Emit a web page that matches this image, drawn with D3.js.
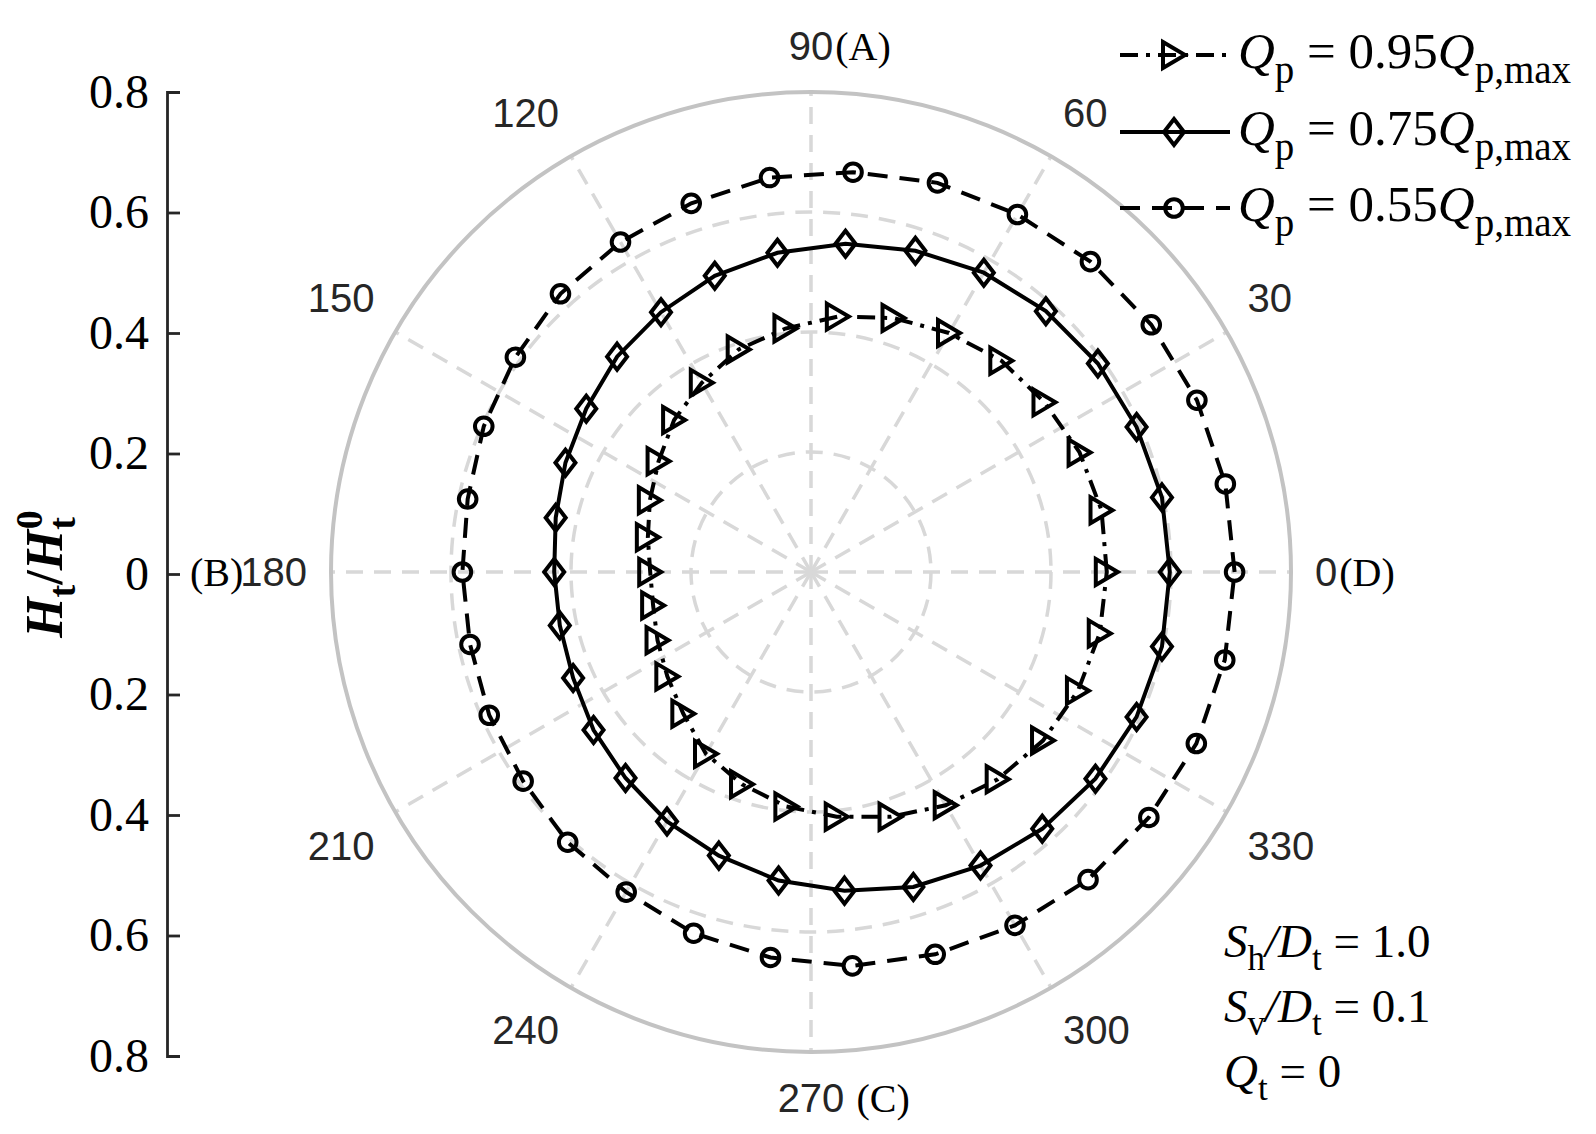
<!DOCTYPE html>
<html>
<head>
<meta charset="utf-8">
<script src="https://cdn.jsdelivr.net/npm/d3@7"></script>
<style>
  body { margin: 0; background: #fff; }
  svg { display: block; }
</style>
</head>
<body>
<svg id="grafico" width="1596" height="1134"></svg>
<script>
var angulos = [0, 12, 24, 36, 48, 60, 72, 84, 96, 108, 120, 132, 144, 156, 168,
  180, 192, 204, 216, 228, 240, 252, 264, 276, 288, 300, 312, 324, 336, 348];

// Qp = 0.95 Qp,max
var serie095 = [0.493, 0.495, 0.490, 0.481, 0.474, 0.460, 0.445, 0.428, 0.408, 0.390,
  0.364, 0.341, 0.314, 0.294, 0.278, 0.268, 0.269, 0.280, 0.296, 0.318,
  0.350, 0.372, 0.393, 0.410, 0.429, 0.449, 0.465, 0.478, 0.487, 0.492];
// Qp = 0.75 Qp,max
var serie075 = [0.598, 0.598, 0.594, 0.591, 0.585, 0.576, 0.563, 0.550, 0.535, 0.519,
  0.500, 0.483, 0.463, 0.448, 0.435, 0.428, 0.428, 0.434, 0.448, 0.462,
  0.480, 0.497, 0.517, 0.534, 0.552, 0.565, 0.576, 0.586, 0.594, 0.598];
// Qp = 0.55 Qp,max
var serie055 = [0.706, 0.706, 0.704, 0.701, 0.696, 0.688, 0.682, 0.670, 0.661, 0.646,
  0.635, 0.624, 0.609, 0.597, 0.585, 0.581, 0.581, 0.587, 0.593, 0.606,
  0.616, 0.633, 0.646, 0.660, 0.670, 0.680, 0.690, 0.696, 0.703, 0.705];

var nombresSeries = ["0.95", "0.75", "0.55"];
var anillos = [0.2, 0.4, 0.6];
var radioMax = 0.8;
var angulosEje = [0, 30, 60, 90, 120, 150, 180, 210, 240, 270, 300, 330];
var etiquetasEje = ["0", "30", "60", "90", "120", "150", "180", "210", "240", "270", "300", "330"];
var sufijos = { 0: "(D)", 90: "(A)", 270: " (C)" };
var prefijos = { 180: "(B)" };
var ticksEje = [-0.8, -0.6, -0.4, -0.2, 0, 0.2, 0.4, 0.6, 0.8];
var notas = [["S", "h", "D", "t", " = 1.0"], ["S", "v", "D", "t", " = 0.1"]];

var cx = 811, cy = 572;
var grosor = 4;
var svg = d3.select("#grafico");
var serif = "'Liberation Serif', 'Times New Roman', serif";
var sans = "'Liberation Sans', Arial, sans-serif";

var r = d3.scaleLinear().domain([0, radioMax]).range([0, 480]);
function rad(a) { return a * Math.PI / 180; }

var polar = svg.append("g").attr("transform", "translate(" + cx + "," + cy + ")");

// rings and spokes
polar.selectAll(".anillo")
  .data(anillos)
  .enter().append("circle")
  .attr("class", "anillo")
  .attr("r", d => r(d))
  .attr("fill", "none")
  .attr("stroke", "#d8d8d8")
  .attr("stroke-width", 3.5)
  .attr("stroke-dasharray", "17,11");

polar.selectAll(".radio")
  .data(angulosEje)
  .enter().append("line")
  .attr("class", "radio")
  .attr("x1", 0).attr("y1", 0)
  .attr("x2", d => r(radioMax) * Math.cos(rad(d)))
  .attr("y2", d => -r(radioMax) * Math.sin(rad(d)))
  .attr("stroke", "#d8d8d8")
  .attr("stroke-width", 3.5)
  .attr("stroke-dasharray", "17,11");

polar.append("circle")
  .attr("r", r(radioMax))
  .attr("fill", "none")
  .attr("stroke", "#c3c3c3")
  .attr("stroke-width", 4);

// angle labels
var rEtiq = r(radioMax) * 1.05;
angulosEje.forEach(function (a, i) {
  var c = Math.cos(rad(a)), s = Math.sin(rad(a));
  var px = cx + rEtiq * c, py = cy - rEtiq * s;
  var fs = 40;
  var anchor = c > 0.1 ? "start" : (c < -0.1 ? "end" : "middle");
  var by = s > 0.1 ? py - 0.21 * fs : (s < -0.1 ? py + 0.9 * fs : py + 0.36 * fs);
  var t = svg.append("text")
    .attr("x", px).attr("y", by)
    .attr("text-anchor", anchor)
    .attr("font-family", sans)
    .attr("font-size", fs)
    .attr("fill", "#262626")
    .text(etiquetasEje[i]);
  var bb = t.node().getBBox();
  if (sufijos[a]) {
    svg.append("text")
      .attr("x", bb.x + bb.width + 2).attr("y", by)
      .attr("font-family", serif)
      .attr("font-size", 40)
      .attr("fill", "#000")
      .attr("xml:space", "preserve")
      .text(sufijos[a]);
  }
  if (prefijos[a]) {
    svg.append("text")
      .attr("x", bb.x + 3).attr("y", by)
      .attr("text-anchor", "end")
      .attr("font-family", serif)
      .attr("font-size", 40)
      .attr("fill", "#000")
      .text(prefijos[a]);
  }
});

// data series
var series = [
  { nombre: nombresSeries[0], valores: serie095, dash: "18,8,4,8", marca: "tri" },
  { nombre: nombresSeries[1], valores: serie075, dash: null, marca: "dia" },
  { nombre: nombresSeries[2], valores: serie055, dash: "20,12", marca: "cir" }
];

var linea = d3.lineRadial()
  .angle(d => Math.PI / 2 - rad(d[0]))
  .radius(d => r(d[1]))
  .curve(d3.curveLinearClosed);

var formas = {
  tri: "M-11,-13L11,0L-11,13Z",
  dia: "M0,-13L10,0L0,13L-10,0Z",
  cir: d3.symbol().type(d3.symbolCircle).size(Math.PI * 8.8 * 8.8)()
};

series.forEach(function (s) {
  var puntos = angulos.map((a, i) => [a, s.valores[i]]);
  polar.append("path")
    .attr("d", linea(puntos))
    .attr("fill", "none")
    .attr("stroke", "#000")
    .attr("stroke-width", grosor)
    .attr("stroke-dasharray", s.dash);
  polar.selectAll(".m-" + s.marca)
    .data(puntos)
    .enter().append("path")
    .attr("class", "m-" + s.marca)
    .attr("transform", d => "translate(" + r(d[1]) * Math.cos(rad(d[0])) + "," + (-r(d[1]) * Math.sin(rad(d[0]))) + ")")
    .attr("d", formas[s.marca])
    .attr("fill", "none")
    .attr("stroke", "#000")
    .attr("stroke-width", grosor);
});

// left axis
var yEje = d3.scaleLinear().domain([-0.8, 0.8]).range([1056, 92]);
var eje = d3.axisLeft(yEje)
  .tickValues(ticksEje)
  .tickSize(-13)
  .tickPadding(18)
  .tickFormat(d => Math.abs(d) < 1e-9 ? "0" : d3.format(".1f")(Math.abs(d)));
var gEje = svg.append("g")
  .attr("transform", "translate(167,0)")
  .style("color", "#262626")
  .call(eje);
gEje.selectAll("path, line").attr("stroke-width", 2.8);
gEje.selectAll("text")
  .attr("font-family", serif)
  .attr("font-size", 48)
  .attr("fill", "#000");

// y label
var yLab = svg.append("text")
  .attr("transform", "translate(62,574) rotate(-90)")
  .attr("text-anchor", "middle")
  .attr("font-family", serif)
  .attr("font-weight", "bold")
  .attr("font-size", 52)
  .attr("fill", "#000");
yLab.append("tspan").attr("font-style", "italic").text("H");
yLab.append("tspan").attr("font-size", 38).attr("dy", 13).text("t");
yLab.append("tspan").attr("dy", -13).text("/");
yLab.append("tspan").attr("font-style", "italic").text("H");
yLab.append("tspan").attr("font-size", 38).attr("dy", 13).text("t");
yLab.append("tspan").attr("font-size", 38).attr("dx", -12).attr("dy", -33).text("0");

// legend
var filasLeyenda = [55, 132, 208];
series.forEach(function (s, i) {
  var y = filasLeyenda[i];
  svg.append("line")
    .attr("x1", 1120).attr("x2", 1230)
    .attr("y1", y).attr("y2", y)
    .attr("stroke", "#000")
    .attr("stroke-width", grosor)
    .attr("stroke-dasharray", s.dash);
  svg.append("path")
    .attr("transform", "translate(1174," + y + ")")
    .attr("d", formas[s.marca])
    .attr("fill", "none")
    .attr("stroke", "#000")
    .attr("stroke-width", grosor);
  var t = svg.append("text")
    .attr("x", 1238).attr("y", y + 13)
    .attr("font-family", serif)
    .attr("font-size", 51)
    .attr("fill", "#000");
  t.append("tspan").attr("font-style", "italic").text("Q");
  t.append("tspan").attr("font-size", 39).attr("dy", 15).text("p");
  t.append("tspan").attr("dy", -15).text(" = " + s.nombre);
  t.append("tspan").attr("font-style", "italic").text("Q");
  t.append("tspan").attr("font-size", 39).attr("dy", 15).text("p,max");
});

// annotation
var filasNota = [957, 1022];
notas.forEach(function (n, i) {
  var t = svg.append("text")
    .attr("x", 1224).attr("y", filasNota[i])
    .attr("font-family", serif)
    .attr("font-size", 47)
    .attr("fill", "#000");
  t.append("tspan").attr("font-style", "italic").text(n[0]);
  t.append("tspan").attr("font-size", 35).attr("dy", 13).text(n[1]);
  t.append("tspan").attr("dy", -13).attr("font-style", "italic").text("/" + n[2]);
  t.append("tspan").attr("font-size", 35).attr("dy", 13).text(n[3]);
  t.append("tspan").attr("dy", -13).text(n[4]);
});
var tq = svg.append("text")
  .attr("x", 1224).attr("y", 1087)
  .attr("font-family", serif)
  .attr("font-size", 47)
  .attr("fill", "#000");
tq.append("tspan").attr("font-style", "italic").text("Q");
tq.append("tspan").attr("font-size", 35).attr("dy", 13).text("t");
tq.append("tspan").attr("dy", -13).text(" = 0");
</script>
</body>
</html>
